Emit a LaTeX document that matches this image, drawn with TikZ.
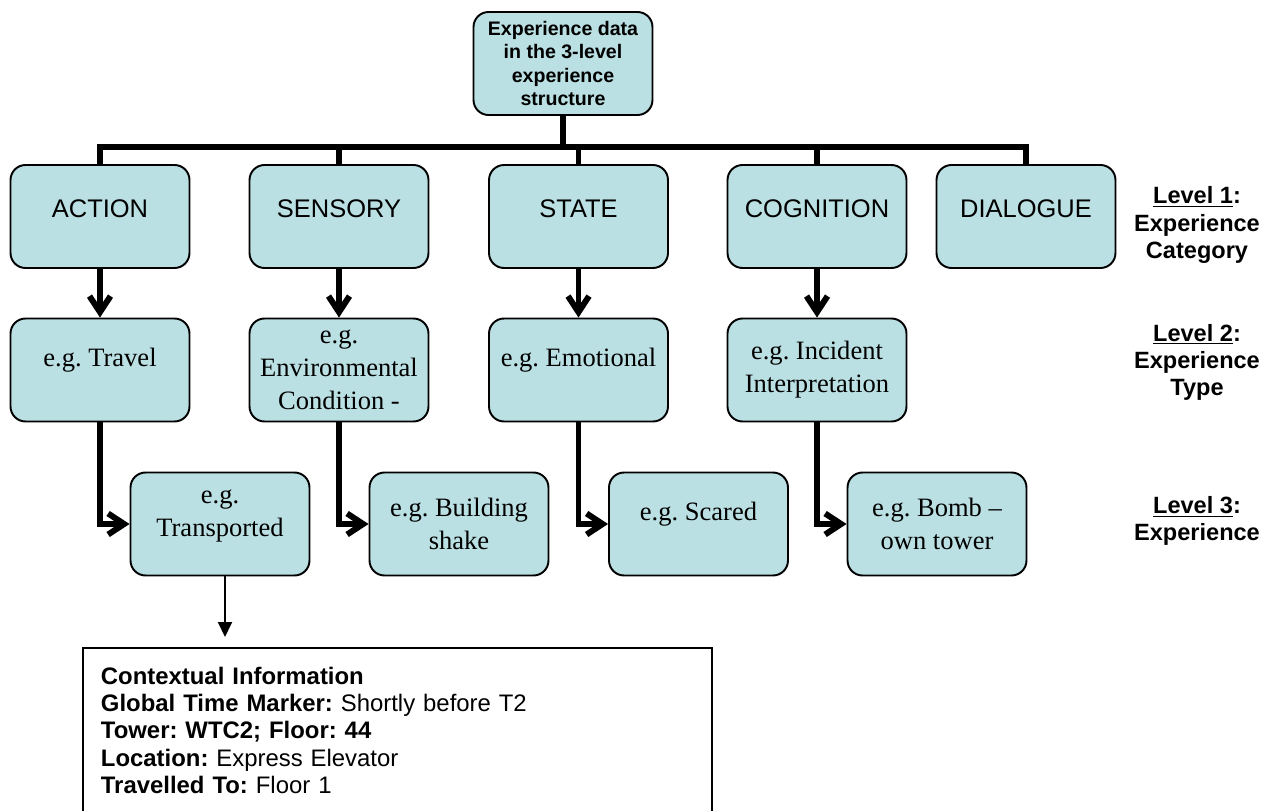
\documentclass[tikz,border=0pt]{standalone}
\usepackage{fontspec}
\setmainfont{Liberation Sans}
\newfontfamily\timesfont{Liberation Serif}
\usetikzlibrary{arrows.meta}
\definecolor{boxfill}{RGB}{187,224,227}
\frenchspacing

\begin{document}
\begin{tikzpicture}[x=0.02cm,y=-0.02cm]
      \tikzset { box/.style = { shape=rectangle,rounded corners=0.3cm,draw,line width=1.1pt,fill=boxfill,minimum width=3.58cm,minimum height=2.06cm,align=center,inner sep=0pt } }
      \tikzset { catbox/.style = { box,text depth=9pt,font=\fontsize{14.5}{17}\selectfont } }
      \tikzset { egbox/.style = { box,font=\timesfont\fontsize{15.1}{18.8}\selectfont } }
      \tikzset { oneline/.style = { text depth=15pt } }
      \tikzset { trunk/.style = { line width=3.4pt } }
      \tikzset { edge/.style = { trunk,-{Straight Barb[length=0.32cm,width=0.42cm]} } }
      \tikzset { info/.style = { line width=1.1pt,-{Triangle[length=0.3cm,width=0.28cm]} } }
      \tikzset { level/.style = { align=center,font=\bfseries\fontsize{13.4}{15.4}\selectfont } }

      \useasboundingbox (0,0) rectangle (1278,811);

      \node[box,font=\bfseries\fontsize{11.15}{13.1}\selectfont] (top) at (563,63.5) {Experience data\\in the 3-level\\experience\\structure};
      \coordinate (bar) at (563,147);

      \node[catbox] (action) at (100,216.5) {ACTION};
      \node[catbox] (sensory) at (339,216.5) {SENSORY};
      \node[catbox] (state) at (578.5,216.5) {STATE};
      \node[catbox] (cognition) at (817,216.5) {COGNITION};
      \node[catbox] (dialogue) at (1026,216.5) {DIALOGUE};

      \node[egbox,oneline] (travel) at (100,370) {e.g. Travel};
      \node[egbox] (environ) at (339,370) {e.g.\\Environmental\\Condition -};
      \node[egbox,oneline] (emotional) at (578.5,370) {e.g. Emotional};
      \node[egbox] (incident) at (817,370) {e.g. Incident\\Interpretation};

      \node[egbox] (transported) at (220,524) {e.g.\\Transported\\[-6pt]\mbox{}};
      \node[egbox] (building) at (459,524) {e.g. Building\\shake};
      \node[egbox,oneline] (scared) at (698.5,524) {e.g. Scared};
      \node[egbox] (bomb) at (937,524) {e.g. Bomb –\\own tower};

      \node[level] (lvl1) at (1197,225) {\underline{Level 1}:\\Experience\\Category};
      \node[level] (lvl2) at (1197,362) {\underline{Level 2}:\\Experience\\Type};
      \node[level] (lvl3) at (1197,521) {\underline{Level 3}:\\Experience};

      \node[draw,line width=1.1pt,anchor=north west,minimum width=12.58cm,minimum height=3.3cm,text width=11.86cm,inner xsep=0.36cm,align=left,font=\fontsize{13.6}{15.65}\selectfont] (context) at (82,647)
        {\textbf{Contextual Information}\\
         \textbf{Global Time Marker:} Shortly before T2\\
         \textbf{Tower: WTC2; Floor: 44}\\
         \textbf{Location:} Express Elevator\\
         \textbf{Travelled To:} Floor 1\\[15.65pt]};

      % tree trunk
      \draw[trunk] (top.south) -- (top.south |- bar);
      \draw[trunk] (action.north) -- (action.north |- bar) -- (dialogue.north |- bar) -- (dialogue.north);
      \draw[trunk] (sensory.north |- bar) -- (sensory.north);
      \draw[trunk] (state.north |- bar) -- (state.north);
      \draw[trunk] (cognition.north |- bar) -- (cognition.north);

      \draw[edge] (action) to (travel);
      \draw[edge] (sensory) to (environ);
      \draw[edge] (state) to (emotional);
      \draw[edge] (cognition) to (incident);

      \draw[edge] (travel.south) |- (transported.west);
      \draw[edge] (environ.south) |- (building.west);
      \draw[edge] (emotional.south) |- (scared.west);
      \draw[edge] (incident.south) |- (bomb.west);

      \draw[info,shorten >=0.2cm] ([xshift=0.1cm]transported.south) -- ([xshift=0.1cm]transported.south |- context.north);

    \end{tikzpicture}
\end{document}
